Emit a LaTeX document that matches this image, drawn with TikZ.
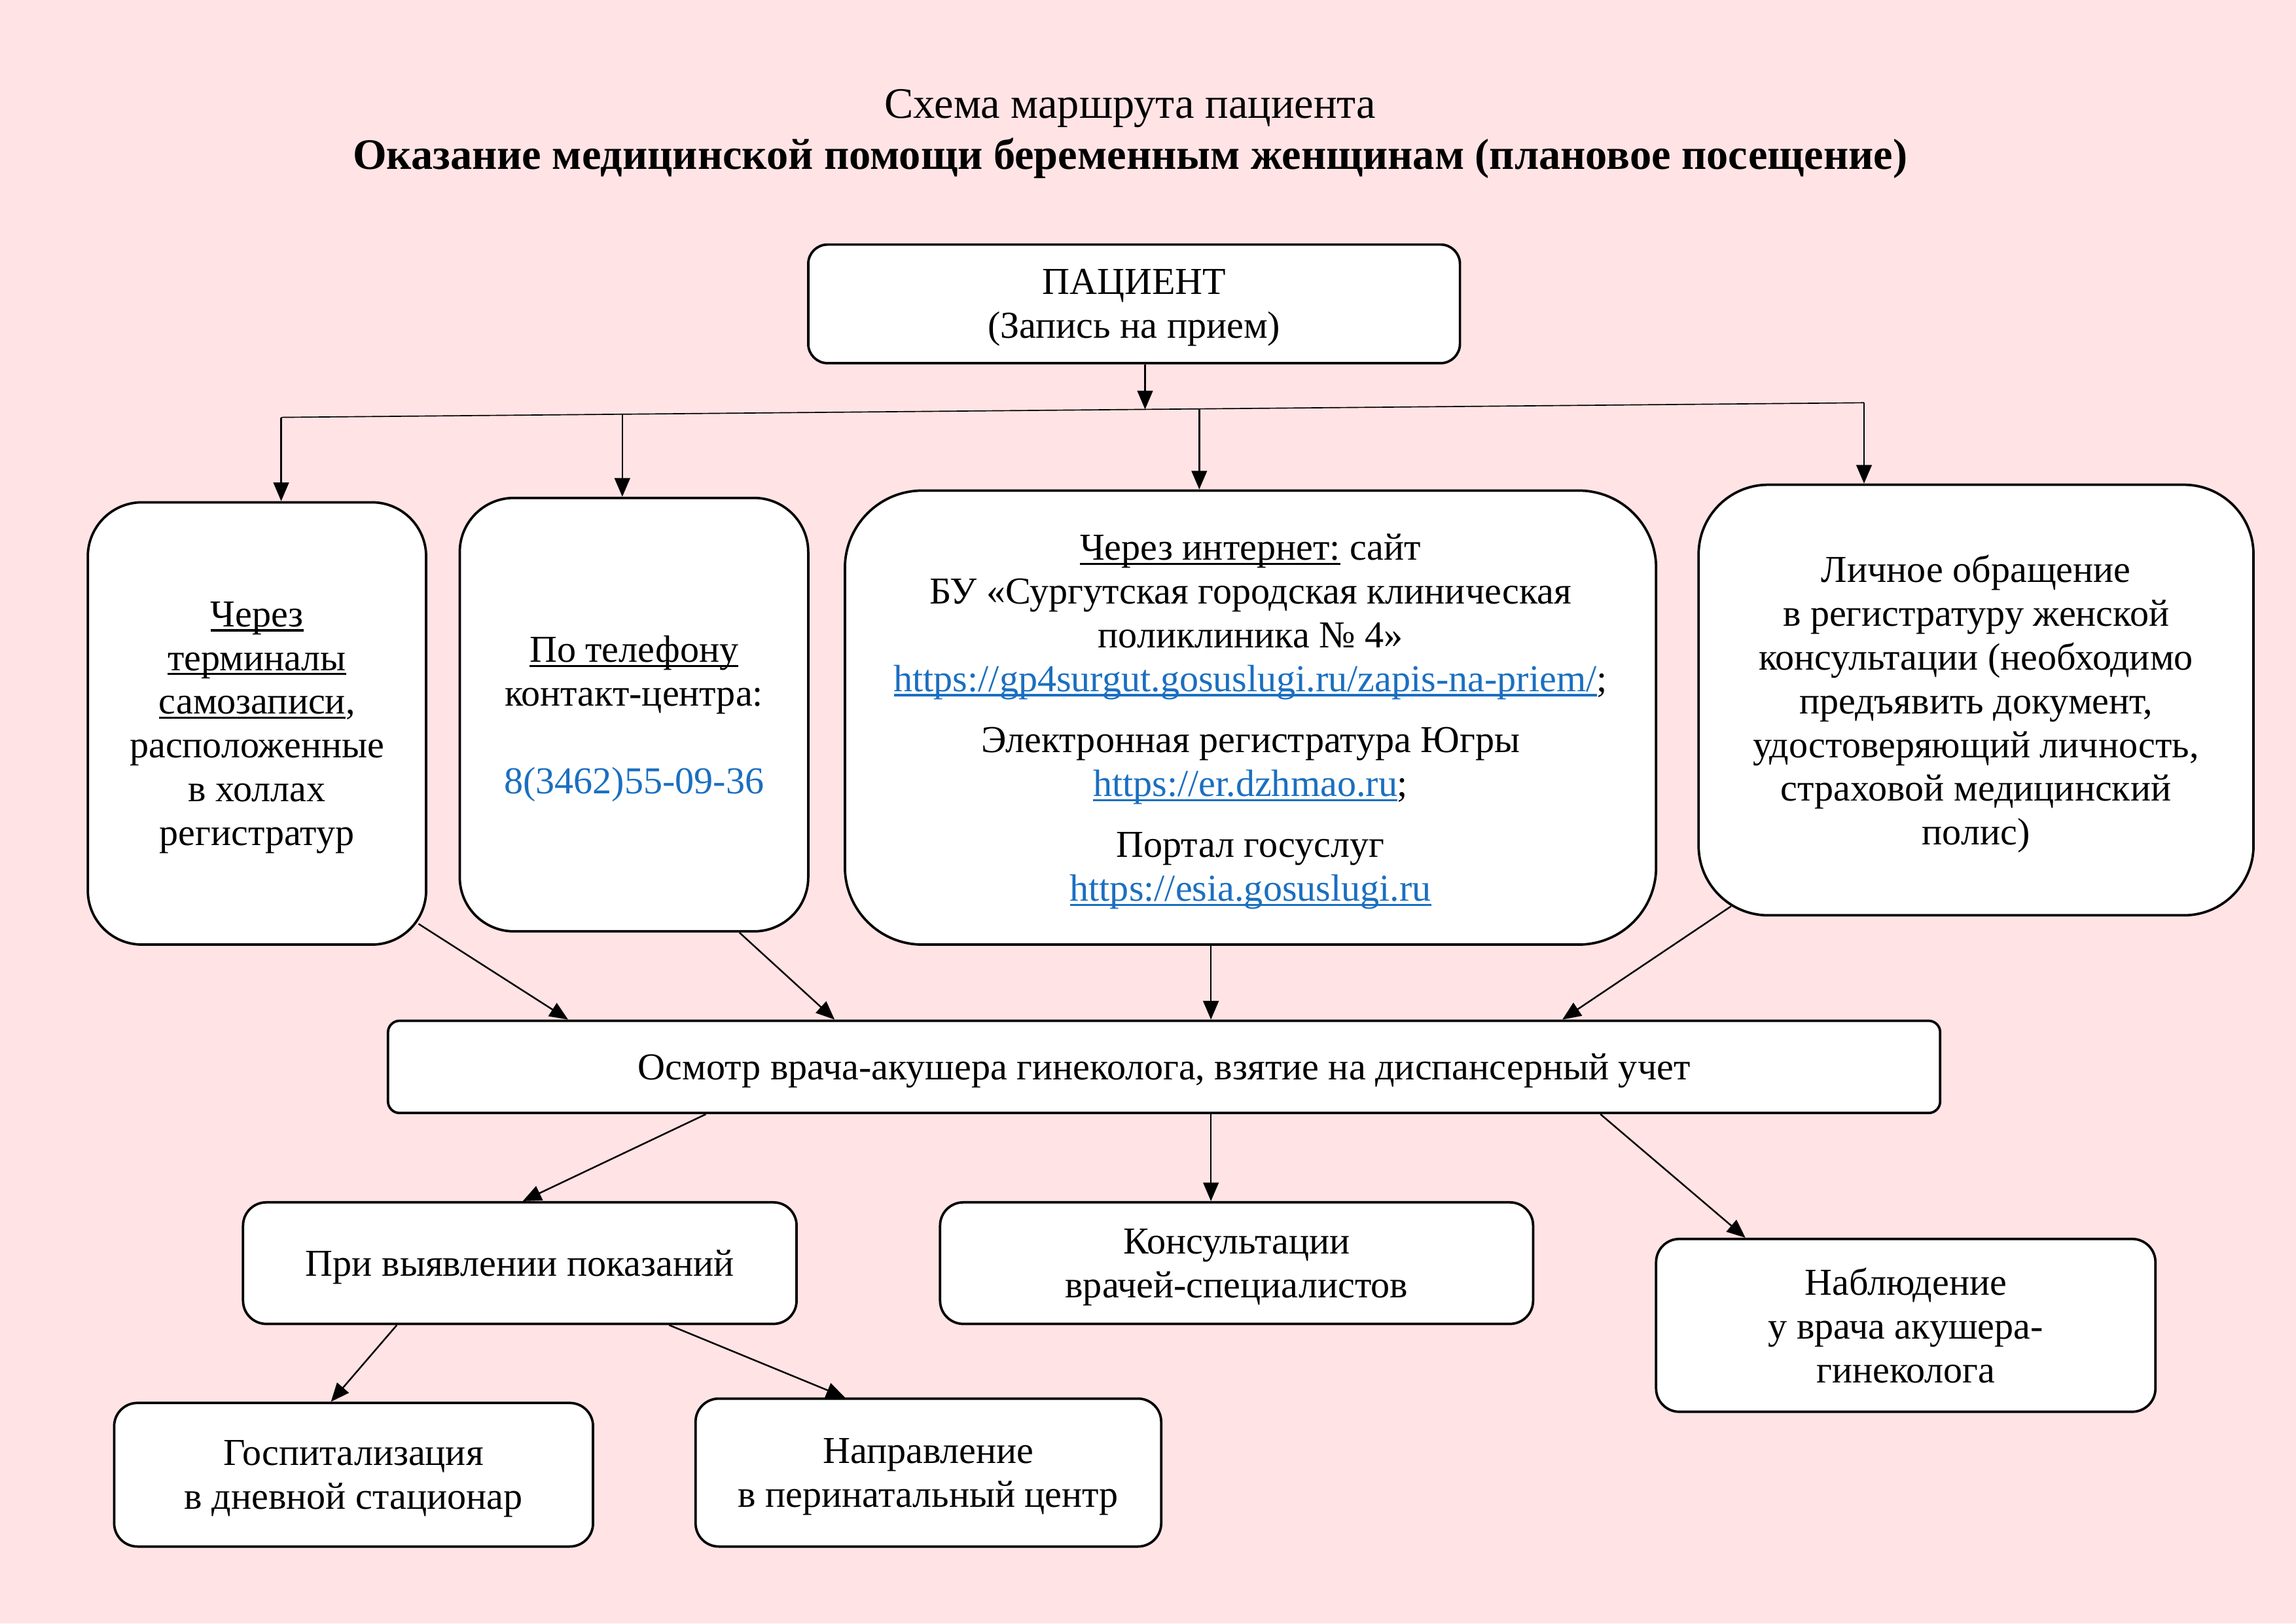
\documentclass[tikz,border=0pt]{standalone}
\usepackage{fontspec}
\setmainfont{Liberation Serif}
\usetikzlibrary{arrows.meta}
\definecolor{bgpink}{HTML}{FFE3E5}
\definecolor{linkblue}{HTML}{1B6FC0}
\newcommand\undl[1]{\setbox0\hbox{#1}\rlap{\rule[-1.8pt]{\wd0}{0.8pt}}\box0\relax}
\newcommand\lnk[1]{\textcolor{linkblue}{\undl{#1}}}
\begin{document}
\begin{tikzpicture}[
    box/.style={draw, line width=0.9pt, fill=white, align=center, inner sep=0pt, text depth=-0.4pt},
    arr/.style={-{Triangle[length=2.4mm,width=2mm]}, line width=0.6pt},
    every node/.append style={font=\fontsize{14}{16.1}\selectfont}]
      \fill[bgpink] (0,0) rectangle (29.7,-21.0);
      %%%%%%%%%%%%%%%%%%%%%%%%%%%%%%%%%%%%%%%%%%%%%%%
      \node[font=\fontsize{16}{18}\selectfont] at (14.62,-1.40) (t1) {Схема маршрута пациента};
      \node[font=\fontsize{16}{18}\selectfont\bfseries] at (14.62,-2.05) (t2) {Оказание медицинской помощи беременным женщинам (плановое посещение)};
      %%%%%%%%%%%%%%%%%%%%%%%%%%%%%%%%%%%%%%%%%%%%%%%
      \node[box, text depth=-2.6pt, rounded corners=0.25cm, minimum width=8.43cm, minimum height=1.534cm] at (14.67,-3.93) (pat) {ПАЦИЕНТ\\(Запись на прием)};
      \coordinate (d0) at (14.812,-5.294);
      \coordinate (busL) at (3.637,-5.398);
      \coordinate (d2) at (8.050,-5.357);
      \coordinate (d3) at (15.513,-5.288);
      \coordinate (busR) at (24.112,-5.209);
      %%%%%%%%%%%%%%%%%%%%%%%%%%%%%%%%%%%%%%%%%%%%%%%
      \node[box, rounded corners=0.7cm, minimum width=4.376cm, minimum height=5.72cm] at (3.324,-9.357) (b1) {\undl{Через}\\\undl{терминалы}\\\undl{самозаписи},\\расположенные\\в холлах\\регистратур};
      \node[box, rounded corners=0.7cm, minimum width=4.508cm, minimum height=5.606cm] at (8.201,-9.243) (b2) {\undl{По телефону}\\контакт-центра:\\[16.1pt]\textcolor{linkblue}{8(3462)55-09-36}};
      \node[box, rounded corners=1cm, minimum width=10.493cm, minimum height=5.872cm] at (16.176,-9.281) (b3) {\undl{Через интернет:} сайт\\БУ «Сургутская городская клиническая\\поликлиника №~4»\\\lnk{https://gp4surgut.gosuslugi.ru/zapis-na-priem/};\\[6.4pt]Электронная регистратура Югры\\\lnk{https://er.dzhmao.ru};\\[6.4pt]Портал госуслуг\\\lnk{https://esia.gosuslugi.ru}};
      \node[box, rounded corners=0.9cm, minimum width=7.178cm, minimum height=5.569cm] at (25.561,-9.054) (b4) {Личное обращение\\в регистратуру женской\\консультации (необходимо\\предъявить документ,\\удостоверяющий личность,\\страховой медицинский\\полис)};
      \draw[arr] (pat.south -| d0) -- (d0);
      \draw (busL) -- (busR);
      \draw[arr] (busL) -- (busL |- b1.north);
      \draw[arr] (d2) -- (d2 |- b2.north);
      \draw[arr] (d3) -- (d3 |- b3.north);
      \draw[arr] (busR) -- (busR |- b4.north);
      %%%%%%%%%%%%%%%%%%%%%%%%%%%%%%%%%%%%%%%%%%%%%%%
      \node[box, rounded corners=0.15cm, minimum width=20.078cm, minimum height=1.193cm] at (15.058,-13.799) (main) {Осмотр врача-акушера гинеколога, взятие на диспансерный учет};
      \draw[arr] ([shift={(-0.114,0.284)}]b1.south east) -- (main.north -| 7.349,0);
      \draw[arr] (b2.south -| 9.565,0) -- (main.north -| 10.796,0);
      \draw[arr] (b3.south -| 15.664,0) -- (main.north -| 15.664,0);
      \draw[arr] ([shift={(0.436,0.133)}]b4.south west) -- (main.north -| 20.21,0);
      %%%%%%%%%%%%%%%%%%%%%%%%%%%%%%%%%%%%%%%%%%%%%%%
      \node[box, rounded corners=0.3cm, minimum width=7.16cm, minimum height=1.572cm] at (6.724,-16.337) (pri) {При выявлении показаний};
      \node[box, rounded corners=0.3cm, minimum width=7.671cm, minimum height=1.572cm] at (15.996,-16.337) (kons) {Консультации\\врачей-специалистов};
      \node[box, text depth=-3.2pt, rounded corners=0.3cm, minimum width=6.459cm, minimum height=2.235cm] at (24.652,-17.142) (nabl) {Наблюдение\\у врача акушера-\\гинеколога};
      \draw[arr] (main.south -| 9.13,0) -- (pri.north -| 6.762,0);
      \draw[arr] (main.south -| 15.664,0) -- (kons.north -| 15.664,0);
      \draw[arr] (main.south -| 20.703,0) -- (nabl.north -| 22.578,0);
      %%%%%%%%%%%%%%%%%%%%%%%%%%%%%%%%%%%%%%%%%%%%%%%
      \node[box, rounded corners=0.3cm, minimum width=6.194cm, minimum height=1.857cm] at (4.574,-19.074) (gosp) {Госпитализация\\в дневной стационар};
      \node[box, rounded corners=0.3cm, minimum width=6.023cm, minimum height=1.913cm] at (12.009,-19.046) (napr) {Направление\\в перинатальный центр};
      \draw[arr] (pri.south -| 5.133,0) -- (gosp.north -| 4.281,0);
      \draw[arr] (pri.south -| 8.656,0) -- (napr.north -| 10.929,0);
      %%%%%%%%%%%%%%%%%%%%%%%%%%%%%%%%%%%%%%%%%%%%%%%
\end{tikzpicture}
\end{document}
